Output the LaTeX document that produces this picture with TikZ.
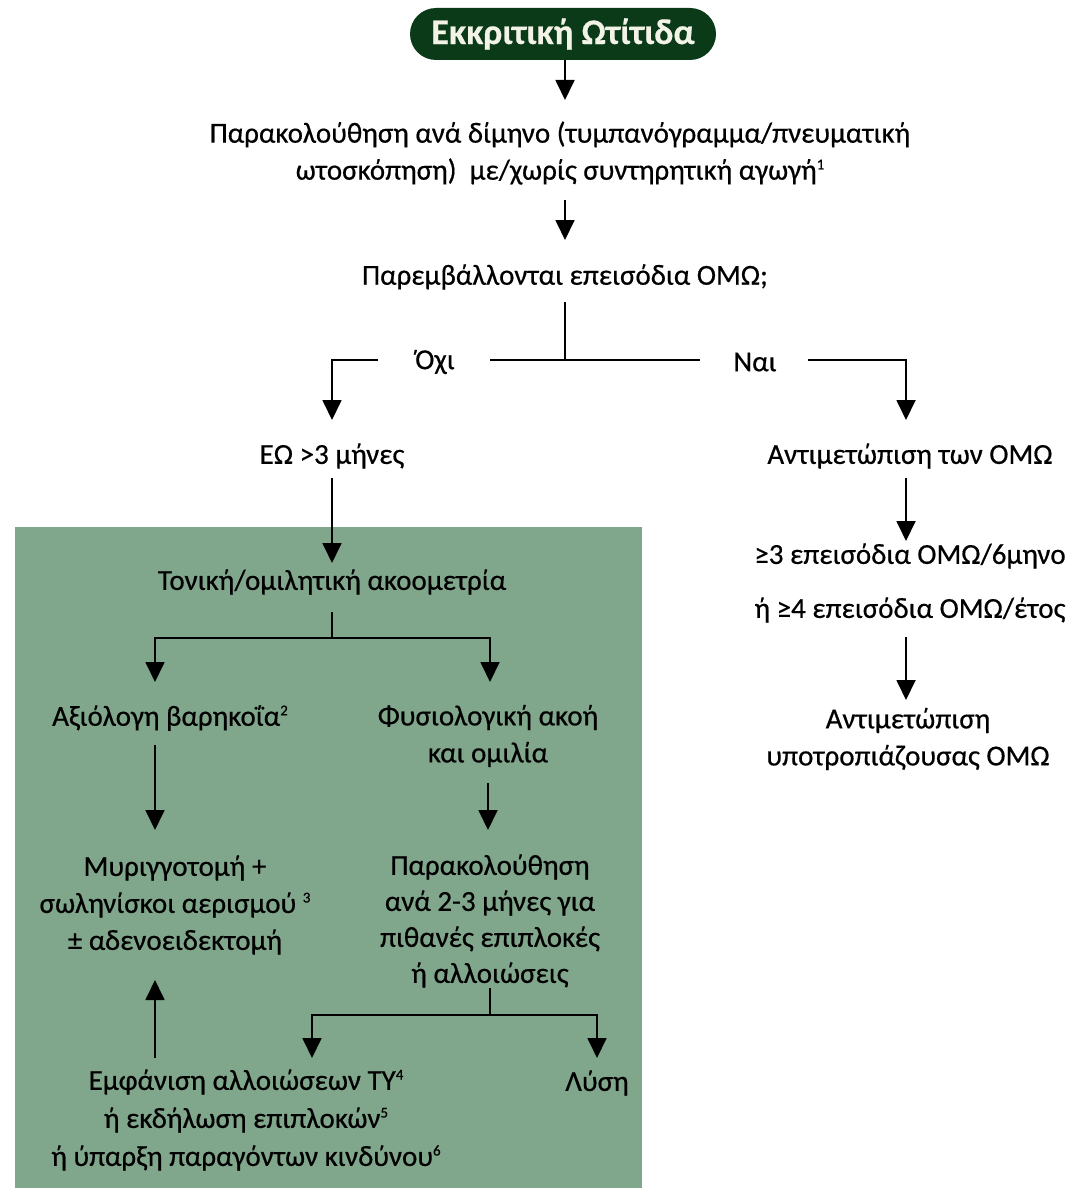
\documentclass[tikz,border=0pt]{standalone}
\usepackage{fontspec}
\setmainfont{Carlito}[FakeBold=0.5]
\usetikzlibrary{arrows.meta}
\definecolor{pillgreen}{HTML}{0B3A18}
\definecolor{boxgreen}{HTML}{80A68B}
\definecolor{pilltext}{HTML}{F2F2E6}
\newcommand{\fnref}[1]{\raisebox{0.75ex}{\fontsize{15}{15}\selectfont #1}}
\tikzset{
  txt/.style={align=center, inner sep=0pt, font=\fontsize{29}{37}\selectfont},
  arr/.style={line width=1.8pt, -{Triangle[width=19pt,length=20pt]}},
  ln/.style={line width=1.8pt},
}
\begin{document}
\begin{tikzpicture}[x=1pt,y=-1pt]
\useasboundingbox (0,0) rectangle (1073,1188);
\fill[boxgreen] (15,527) rectangle (642,1188);
% title
\node[fill=pillgreen, rounded corners=26pt, minimum width=306pt, minimum height=52pt, inner sep=0pt,
      text=pilltext, font=\fontsize{36}{36}\selectfont\bfseries] (title) at (563,34) {Εκκριτική Ωτίτιδα};
\node[txt] (follow) at (560,153) {Παρακολούθηση ανά δίμηνο (τυμπανόγραμμα/πνευματική\\ωτοσκόπηση)\ \ με/χωρίς συντηρητική αγωγή\fnref{1}};
\node[txt] (q) at (565,277) {Παρεμβάλλονται επεισόδια ΟΜΩ;};
\node[txt] (no) at (435,362) {Όχι};
\node[txt] (yes) at (755,362) {Ναι};
\node[txt] (eo) at (332,456) {ΕΩ >3 μήνες};
\node[txt] (treat) at (910,456) {Αντιμετώπιση των ΟΜΩ};
\node[txt] (audio) at (332,582) {Τονική/ομιλητική ακοομετρία};
\node[txt] (loss) at (170,718) {Αξιόλογη βαρηκοΐα\fnref{2}};
\node[txt] (normal) at (488,736) {Φυσιολογική ακοή\\και ομιλία};
\node[txt] (myr) at (175,905) {Μυριγγοτομή +\\σωληνίσκοι αερισμού \fnref{3}\\± αδενοειδεκτομή};
\node[txt, font=\fontsize{29}{36}\selectfont] (mon) at (490,921) {Παρακολούθηση\\ανά 2-3 μήνες για\\πιθανές επιπλοκές\\ή αλλοιώσεις};
\node[txt, font=\fontsize{29}{38}\selectfont] (chg) at (246,1120) {Εμφάνιση αλλοιώσεων ΤΥ\fnref{4}\\ή εκδήλωση επιπλοκών\fnref{5}\\ή ύπαρξη παραγόντων κινδύνου\fnref{6}};
\node[txt] (lysi) at (597,1083) {Λύση};
\node[txt, font=\fontsize{29}{54}\selectfont] (freq) at (910,583) {≥3 επεισόδια ΟΜΩ/6μηνο\\ή ≥4 επεισόδια ΟΜΩ/έτος};
\node[txt] (rec) at (908,739) {Αντιμετώπιση\\υποτροπιάζουσας ΟΜΩ};
% connectors
\coordinate (qb) at (565,360);
\draw[arr] (title.south -| 565,0) -- (565,100);
\draw[arr] (565,200) -- (565,240);
\draw[ln] (565,302) -- (qb);
\draw[ln] (490,360) -- (700,360);
\draw[arr] (378,360) -- (332,360) -- (332,420);
\draw[arr] (808,360) -- (906,360) -- (906,420);
\draw[arr] (332,478) -- (332,563);
\draw[ln] (332,612) -- (332,638);
\draw[arr] (332,638) -- (155,638) -- (155,682);
\draw[arr] (332,638) -- (490,638) -- (490,682);
\draw[arr] (155,745) -- (155,830);
\draw[arr] (488,783) -- (488,830);
\draw[ln] (490,988) -- (490,1015);
\draw[arr] (490,1015) -- (312,1015) -- (312,1058);
\draw[arr] (490,1015) -- (597,1015) -- (597,1058);
\draw[arr] (155,1058) -- (155,980);
\draw[arr] (906,478) -- (906,541);
\draw[arr] (906,637) -- (906,700);
\end{tikzpicture}
\end{document}
